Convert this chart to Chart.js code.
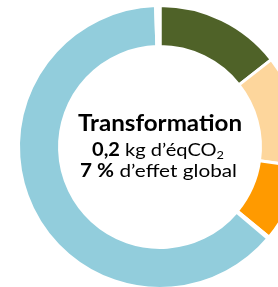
<!DOCTYPE html>
<html>
<head>
<meta charset="utf-8">
<script src="https://cdn.jsdelivr.net/npm/chart.js@4.4.1/dist/chart.umd.min.js"></script>
<style>
  html, body { margin: 0; padding: 0; background: #fff; overflow: hidden; }
  body { width: 278px; height: 287px; position: relative; }
  #wrap { position: absolute; left: 0; top: 0; width: 320px; height: 294px; }
</style>
</head>
<body>
<div id="wrap"><canvas id="donut"></canvas></div>
<script>
'use strict';

// shares of the ring, clockwise from 12 o'clock (%)
var segmentLabels = ['Segment 1', 'Segment 2', 'Segment 3', 'Segment 4', 'Segment 5', 'Segment 6'];
var segmentValues = [14.4, 12.8, 8.8, 0.2, 63.3, 0.5];
var segmentColors = ['#4F6228', '#FDD69C', '#FF9A00', '#C3D69B', '#92CDDC', '#FFFFFF'];

// text in the hole
var centerTitle = 'Transformation';
var centerAmount = '0,2';
var centerUnit = ' kg d’éqCO';
var centerSub = '2';
var centerShare = '7 %';
var centerShareText = ' d’effet global';

var FONT = 'Lato, "Open Sans", sans-serif';

// draws a line made of runs {text, bold, size, dy}, centred on x,
// stretched sideways so that it is `width` px wide
function drawRuns(ctx, runs, x, y, width) {
   var total = 0;
   runs.forEach(function(r) {
      ctx.font = (r.bold ? 'bold ' : '') + r.size + 'px ' + FONT;
      r.w = ctx.measureText(r.text).width;
      total += r.w;
   });
   var sx = width ? width / total : 1;
   ctx.save();
   ctx.translate(x - total * sx / 2, y);
   ctx.scale(sx, 1);
   var cx = 0;
   runs.forEach(function(r) {
      ctx.font = (r.bold ? 'bold ' : '') + r.size + 'px ' + FONT;
      ctx.fillText(r.text, cx, r.dy || 0);
      cx += r.w;
   });
   ctx.restore();
}

var centerText = {
   id: 'centerText',
   afterDraw: function(chart) {
      var ctx = chart.ctx;
      var meta = chart.getDatasetMeta(0);
      var x = meta.data[0].x;
      var y = meta.data[0].y;
      ctx.save();
      ctx.fillStyle = '#000';
      ctx.textBaseline = 'alphabetic';
      ctx.textAlign = 'left';
      drawRuns(ctx, [{ text: centerTitle, bold: true, size: 23.5 }], x, y - 16, 164);
      drawRuns(ctx, [
         { text: centerAmount, bold: true, size: 18 },
         { text: centerUnit, bold: false, size: 18 },
         { text: centerSub, bold: false, size: 11.5, dy: 3 }
      ], x - 2, y + 9, 132);
      drawRuns(ctx, [
         { text: centerShare, bold: true, size: 18 },
         { text: centerShareText, bold: false, size: 18 }
      ], x - 1.5, y + 30, 157);
      ctx.restore();
   }
};

var ctx = document.getElementById('donut');
new Chart(ctx, {
   type: 'doughnut',
   data: {
      labels: segmentLabels,
      datasets: [{
         data: segmentValues,
         backgroundColor: segmentColors,
         borderColor: '#FFFFFF',
         borderWidth: 3
      }]
   },
   options: {
      responsive: true,
      maintainAspectRatio: false,
      animation: false,
      cutout: '71%',
      layout: { padding: 4 },
      plugins: {
         legend: { display: false },
         tooltip: { enabled: false }
      }
   },
   plugins: [centerText]
});
</script>
</body>
</html>
